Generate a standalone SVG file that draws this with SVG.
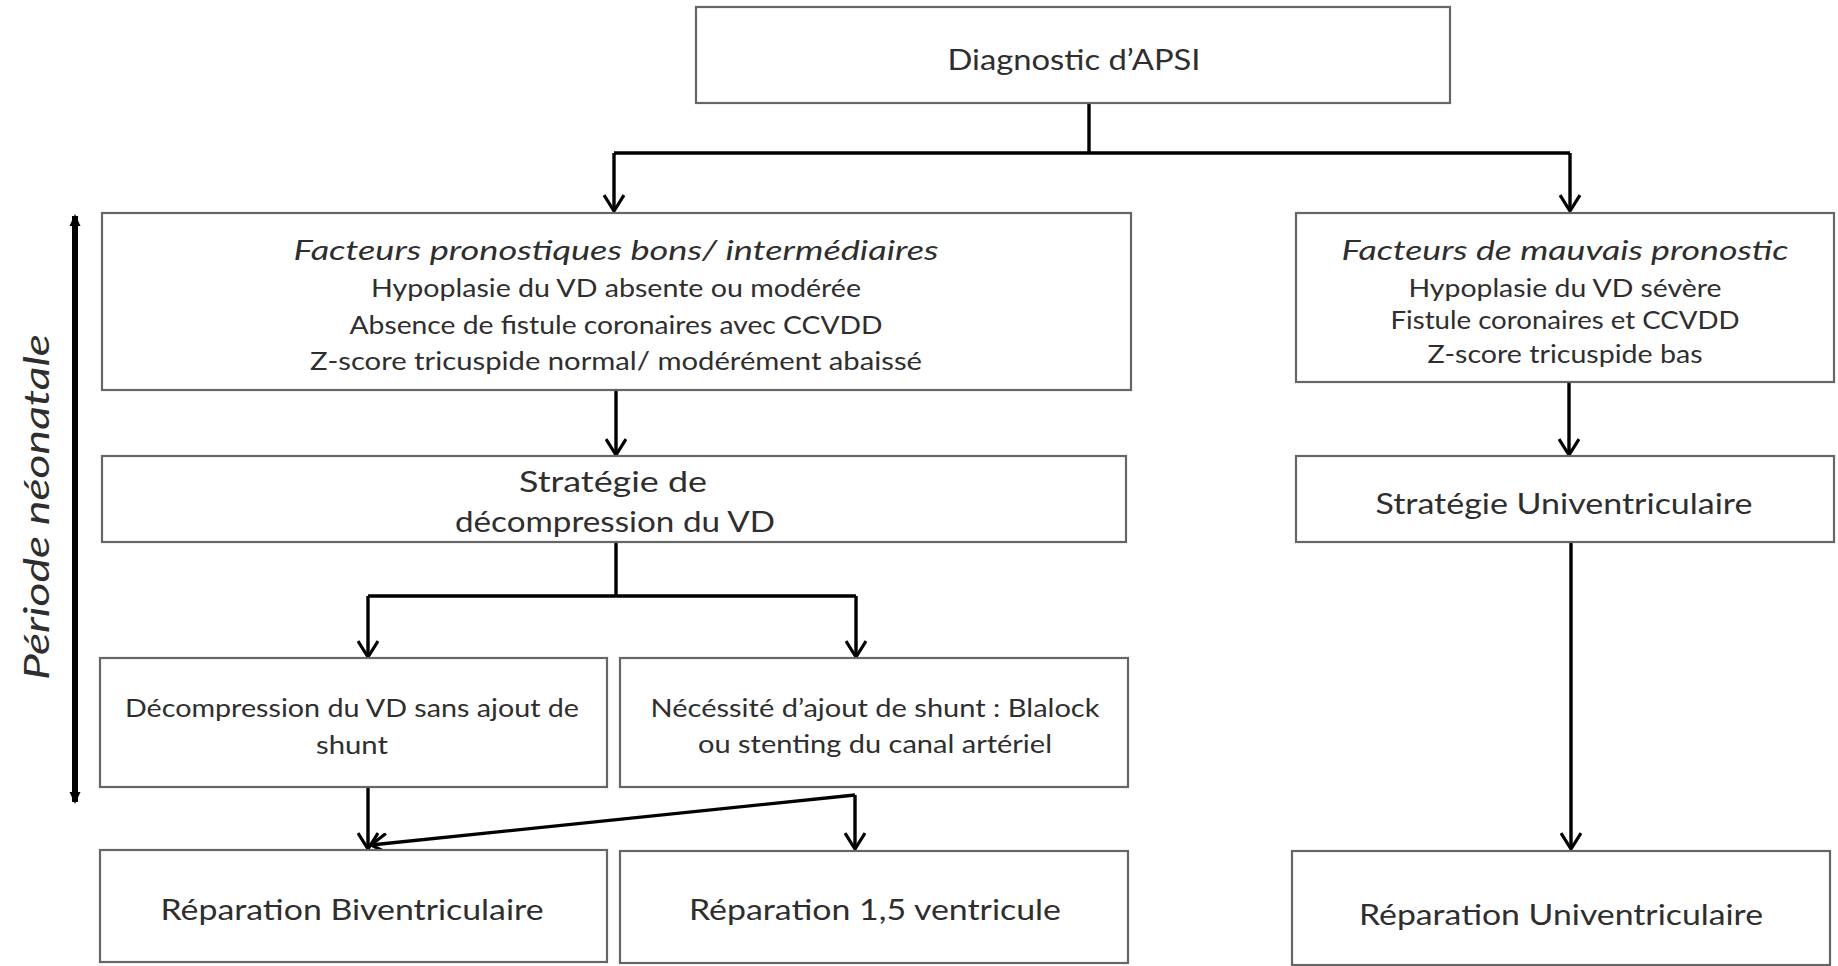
<svg xmlns="http://www.w3.org/2000/svg" width="1838" height="966" viewBox="0 0 1838 966">
<defs>
<style>
.box{fill:#fff;stroke:#666;stroke-width:2.2}
.t{font-family:Lato,"Open Sans","Liberation Sans",sans-serif;fill:#2e2e2e;text-anchor:middle}
.big{font-size:29px}
.sm{font-size:25px}
.it{font-style:italic;font-size:27px}
.c{fill:none;stroke:#000;stroke-width:3.4}
.ca{fill:none;stroke:#000;stroke-width:3.4;marker-end:url(#arr)}
</style>
<marker id="arr" viewBox="0 0 22 22" refX="19" refY="11" markerWidth="22" markerHeight="22" markerUnits="userSpaceOnUse" orient="auto">
<path d="M3,1 L19,11 L3,21" fill="none" stroke="#000" stroke-width="3.2"/>
</marker>
<marker id="tri" viewBox="0 0 12 12" refX="10" refY="6" markerWidth="12" markerHeight="13" markerUnits="userSpaceOnUse" orient="auto-start-reverse">
<path d="M0,0.5 L12,6 L0,11.5 Z" fill="#000"/>
</marker>
</defs>
<rect width="1838" height="966" fill="#fff"/>

<g id="connectors">
<path class="c" d="M1089,103 V153 M614,153 H1570"/>
<path class="ca" d="M614,153 V211"/>
<path class="ca" d="M1570,153 V211"/>
<path class="ca" d="M616,390 V455"/>
<path class="ca" d="M1569,382 V455"/>
<path class="c" d="M616,542 V596 M368,596 H856"/>
<path class="ca" d="M368,596 V657"/>
<path class="ca" d="M856,596 V657"/>
<path class="ca" d="M368,787 V849"/>
<path class="ca" d="M855,795 L371,845"/>
<path class="ca" d="M855,795 V849"/>
<path class="ca" d="M1571,542 V849"/>
</g>

<g id="periode">
<line x1="75" y1="216" x2="75" y2="802" stroke="#000" stroke-width="6" marker-start="url(#tri)" marker-end="url(#tri)"/>
<text class="t" style="font-size:35px;font-style:italic" transform="translate(49,507) rotate(-90)" textLength="346" lengthAdjust="spacingAndGlyphs">Période néonatale</text>
</g>

<g id="diagnostic">
<rect class="box" x="696" y="7" width="754" height="96"/>
<text class="t big" x="1074" y="70" textLength="253" lengthAdjust="spacingAndGlyphs">Diagnostic d’APSI</text>
</g>

<g id="facteurs-bons">
<rect class="box" x="102" y="213" width="1029" height="177"/>
<text class="t it" x="616" y="260" textLength="645" lengthAdjust="spacingAndGlyphs">Facteurs  pronostiques bons/ intermédiaires</text>
<text class="t sm" x="616" y="297" textLength="490" lengthAdjust="spacingAndGlyphs">Hypoplasie du VD absente ou modérée</text>
<text class="t sm" x="616" y="334" textLength="533" lengthAdjust="spacingAndGlyphs">Absence de fistule coronaires avec CCVDD</text>
<text class="t sm" x="616" y="370" textLength="612" lengthAdjust="spacingAndGlyphs">Z-score tricuspide normal/ modérément abaissé</text>
</g>

<g id="facteurs-mauvais">
<rect class="box" x="1296" y="213" width="538" height="169"/>
<text class="t it" x="1565" y="260" textLength="447" lengthAdjust="spacingAndGlyphs">Facteurs de mauvais pronostic</text>
<text class="t sm" x="1565" y="297" textLength="313" lengthAdjust="spacingAndGlyphs">Hypoplasie du VD sévère</text>
<text class="t sm" x="1565" y="329" textLength="349" lengthAdjust="spacingAndGlyphs">Fistule coronaires et CCVDD</text>
<text class="t sm" x="1565" y="363" textLength="275" lengthAdjust="spacingAndGlyphs">Z-score tricuspide bas</text>
</g>

<g id="strategie-decompression">
<rect class="box" x="102" y="456" width="1024" height="86"/>
<text class="t big" x="613" y="492" textLength="188" lengthAdjust="spacingAndGlyphs">Stratégie  de</text>
<text class="t big" x="615" y="532" textLength="320" lengthAdjust="spacingAndGlyphs">décompression du VD</text>
</g>

<g id="strategie-uni">
<rect class="box" x="1296" y="456" width="538" height="86"/>
<text class="t big" x="1564" y="514" textLength="377" lengthAdjust="spacingAndGlyphs">Stratégie Univentriculaire</text>
</g>

<g id="decompression-sans-shunt">
<rect class="box" x="100" y="658" width="507" height="129"/>
<text class="t sm" x="352" y="717" textLength="454" lengthAdjust="spacingAndGlyphs">Décompression du VD sans ajout de</text>
<text class="t sm" x="352" y="754" textLength="72" lengthAdjust="spacingAndGlyphs">shunt</text>
</g>

<g id="necessite-shunt">
<rect class="box" x="620" y="658" width="508" height="129"/>
<text class="t sm" x="875" y="717" textLength="449" lengthAdjust="spacingAndGlyphs">Nécéssité d’ajout de shunt : Blalock</text>
<text class="t sm" x="875" y="753" textLength="354" lengthAdjust="spacingAndGlyphs">ou stenting du canal artériel</text>
</g>

<g id="reparation-bi">
<rect class="box" x="100" y="850" width="507" height="112"/>
<text class="t big" x="352" y="920" textLength="383" lengthAdjust="spacingAndGlyphs">Réparation Biventriculaire</text>
</g>

<g id="reparation-15">
<rect class="box" x="620" y="851" width="508" height="112"/>
<text class="t big" x="875" y="920" textLength="372" lengthAdjust="spacingAndGlyphs">Réparation 1,5 ventricule</text>
</g>

<g id="reparation-uni">
<rect class="box" x="1292" y="851" width="538" height="114"/>
<text class="t big" x="1561" y="925" textLength="404" lengthAdjust="spacingAndGlyphs">Réparation Univentriculaire</text>
</g>
</svg>
